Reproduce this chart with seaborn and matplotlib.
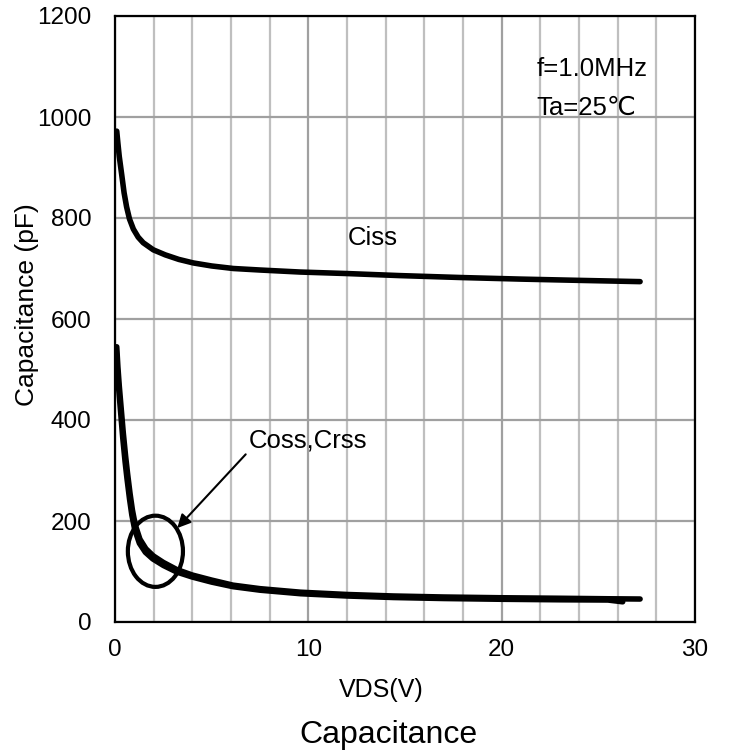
import numpy as np
import pandas as pd
import matplotlib
matplotlib.use("Agg")
import matplotlib.pyplot as plt
import seaborn as sns
from matplotlib.patches import Ellipse
from matplotlib.ticker import MultipleLocator

# ---- data ----
vds_ciss = [0.09, 0.15, 0.22, 0.35, 0.47, 0.6, 0.75, 0.95, 1.2, 1.46, 1.98, 2.6,
            3.3, 4.05, 5.0, 6.12, 7.5, 9.57, 12.0, 14.7, 18.0, 21.0, 24.0, 27.16]
ciss = [972, 948, 922, 885, 850, 822, 798, 778, 762, 751, 737, 727,
        718, 711, 705, 700, 697, 693, 690, 686, 682, 679, 676.5, 674]

vds_coss = [0.09, 0.15, 0.22, 0.3, 0.43, 0.55, 0.65, 0.78, 0.9, 1.05, 1.29, 1.6,
            1.98, 2.5, 3.19, 4.0, 5.0, 6.1, 7.5, 9.6, 12.0, 14.4, 17.0, 20.0,
            23.0, 25.5, 27.16]
coss = [545, 505, 468, 432, 374, 328, 294, 254, 222, 192, 164, 145,
        131, 118, 104, 93, 83, 73, 66, 59, 54.5, 51.5, 49.5, 48,
        47, 46, 45.5]

vds_crss = [0.06, 0.12, 0.19, 0.27, 0.4, 0.52, 0.62, 0.75, 0.87, 1.02, 1.26, 1.57,
            1.95, 2.5, 3.19, 4.0, 5.0, 6.1, 7.5, 9.6, 12.0, 14.4, 17.0, 20.0,
            23.0, 25.5, 26.26]
crss = [540, 500, 462, 425, 365, 318, 284, 244, 212, 183, 156, 138,
        125, 112, 99, 89, 79, 70, 63, 56, 51.5, 48.5, 46.5, 45,
        44, 43.5, 40]

x_ticks = [0, 10, 20, 30]
y_ticks = [0, 200, 400, 600, 800, 1000, 1200]

df = pd.concat([
    pd.DataFrame({"VDS": vds_ciss, "C": ciss, "series": "Ciss"}),
    pd.DataFrame({"VDS": vds_coss, "C": coss, "series": "Coss"}),
    pd.DataFrame({"VDS": vds_crss, "C": crss, "series": "Crss"}),
])

sns.set_style("white")
plt.rcParams["font.family"] = ["Liberation Sans", "DejaVu Sans"]
plt.rcParams["text.color"] = "black"
plt.rcParams["xtick.color"] = "black"
plt.rcParams["ytick.color"] = "black"
plt.rcParams["axes.labelcolor"] = "black"

fig = plt.figure(figsize=(7.31, 7.52), dpi=100)
ax = fig.add_axes([115 / 731, 1 - 622 / 752, 580 / 731, 606 / 752])

sns.lineplot(data=df, x="VDS", y="C", units="series", estimator=None,
             color="black", linewidth=4, ax=ax, legend=False,
             solid_capstyle="round", solid_joinstyle="round", sort=False)

ax.set_xlim(0, 30)
ax.set_ylim(0, 1200)
ax.set_xticks(x_ticks)
ax.set_yticks(y_ticks)
ax.xaxis.set_minor_locator(MultipleLocator(2))
ax.grid(which="major", axis="both", color="#a0a0a0", linewidth=1.6)
ax.grid(which="minor", axis="x", color="#bfbfbf", linewidth=1.6)
ax.set_axisbelow(True)
ax.tick_params(which="both", length=0, labelsize=17.5)
ax.tick_params(axis="y", pad=17)
ax.tick_params(axis="x", pad=12)
for s in ax.spines.values():
    s.set_color("black")
    s.set_linewidth(1.6)

ax.set_xlabel("VDS(V)", fontsize=18)
ax.xaxis.set_label_coords((381 - 115) / 580, (622 - 678) / 606)
ax.set_ylabel("Capacitance (pF)", fontsize=19)
ax.yaxis.set_label_coords((39 - 115) / 580, 0.5 - (305 - 319) / 606)

ax.text(12.05, 746, "Ciss", fontsize=18.5, ha="left", va="baseline")
ax.text(21.8, 1081, "f=1.0MHz", fontsize=18.5, ha="left", va="baseline")
ax.text(21.8, 1004, "Ta=25\u2103", fontsize=18.5, ha="left", va="baseline")

ax.add_patch(Ellipse((2.09, 140), width=2.85, height=141, fill=False,
                     edgecolor="black", linewidth=3, zorder=5))
ax.annotate("", xy=(3.22, 186), xytext=(6.76, 332),
            arrowprops=dict(arrowstyle="-|>", color="black", lw=1.5,
                            mutation_scale=20, shrinkA=0, shrinkB=0))
ax.text(6.93, 345, "Coss,Crss", fontsize=18.5, ha="left", va="baseline")

fig.text(388 / 731, 1 - 743 / 752, "Capacitance", fontsize=23,
         ha="center", va="baseline")

fig.savefig("out.png", dpi=100)
